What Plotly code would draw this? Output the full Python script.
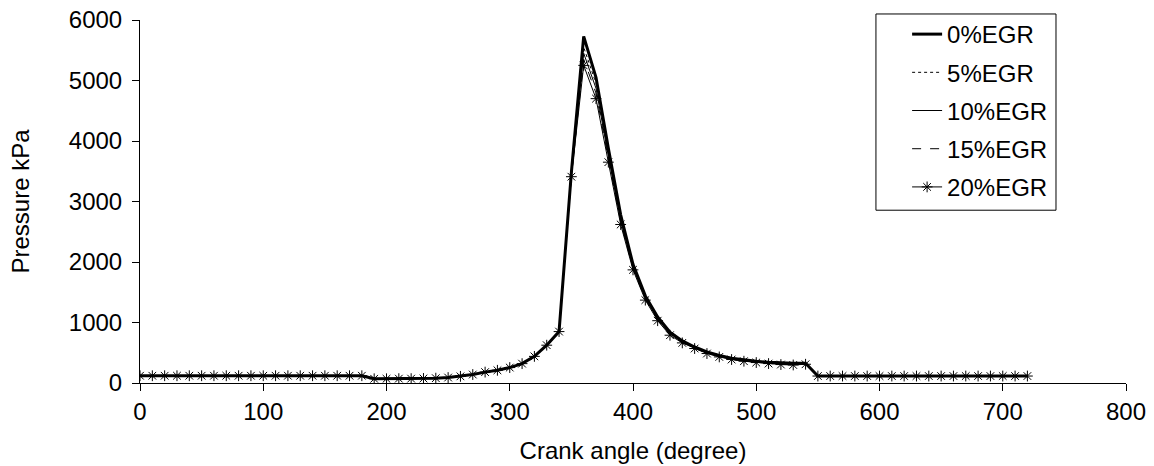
import plotly.graph_objects as go

crank_angle = [0, 10, 20, 30, 40, 50, 60, 70, 80, 90, 100, 110, 120, 130, 140, 150, 160, 170, 180,
               190, 200, 210, 220, 230, 240, 250, 260, 270, 280, 290, 300, 310, 320, 330, 340,
               350, 360, 370, 380, 390, 400, 410, 420, 430, 440, 450, 460, 470, 480, 490, 500,
               510, 520, 530, 540, 550,
               560, 570, 580, 590, 600, 610, 620, 630, 640, 650, 660, 670, 680, 690, 700, 710, 720]

p_egr0 = [120, 120, 120, 120, 120, 120, 120, 120, 120, 120, 120, 120, 120, 120, 120, 120, 120, 120, 120,
          70, 70, 72, 72, 75, 80, 90, 110, 140, 180, 210, 255, 320, 440, 625, 850,
          3480, 5730, 5050, 3880, 2780, 1960, 1440, 1090, 840, 695, 595, 515, 455, 410, 380, 358,
          342, 332, 326, 328, 115,
          115, 115, 115, 115, 115, 115, 115, 115, 115, 115, 115, 115, 115, 115, 115, 115, 115]

p_egr5 = [120, 120, 120, 120, 120, 120, 120, 120, 120, 120, 120, 120, 120, 120, 120, 120, 120, 120, 120,
          70, 70, 72, 72, 75, 80, 90, 110, 140, 180, 210, 255, 320, 440, 625, 850,
          3460, 5550, 4950, 3800, 2730, 1930, 1420, 1070, 830, 685, 585, 505, 447, 402, 372, 350,
          334, 322, 314, 316, 115,
          115, 115, 115, 115, 115, 115, 115, 115, 115, 115, 115, 115, 115, 115, 115, 115, 115]

p_egr10 = [120, 120, 120, 120, 120, 120, 120, 120, 120, 120, 120, 120, 120, 120, 120, 120, 120, 120, 120,
           70, 70, 72, 72, 75, 80, 90, 110, 140, 180, 210, 255, 320, 440, 625, 850,
           3440, 5450, 4870, 3750, 2690, 1910, 1400, 1055, 815, 675, 578, 498, 441, 396, 366, 345,
           328, 315, 305, 312, 115,
           115, 115, 115, 115, 115, 115, 115, 115, 115, 115, 115, 115, 115, 115, 115, 115, 115]

p_egr15 = [120, 120, 120, 120, 120, 120, 120, 120, 120, 120, 120, 120, 120, 120, 120, 120, 120, 120, 120,
           70, 70, 72, 72, 75, 80, 90, 110, 140, 180, 210, 255, 320, 440, 625, 850,
           3420, 5350, 4790, 3700, 2660, 1890, 1385, 1040, 803, 668, 573, 492, 436, 392, 363, 341,
           324, 310, 300, 312, 115,
           115, 115, 115, 115, 115, 115, 115, 115, 115, 115, 115, 115, 115, 115, 115, 115, 115]

p_egr20 = [120, 120, 120, 120, 120, 120, 120, 120, 120, 120, 120, 120, 120, 120, 120, 120, 120, 120, 120,
           70, 70, 72, 72, 75, 80, 90, 110, 140, 180, 210, 255, 320, 440, 625, 850,
           3410, 5250, 4700, 3650, 2620, 1870, 1370, 1030, 790, 663, 570, 487, 431, 388, 360, 338,
           321, 305, 298, 310, 115,
           115, 115, 115, 115, 115, 115, 115, 115, 115, 115, 115, 115, 115, 115, 115, 115, 115]

series_names = ["0%EGR", "5%EGR", "10%EGR", "15%EGR", "20%EGR"]
x_ticks = [0, 100, 200, 300, 400, 500, 600, 700, 800]
y_ticks = [0, 1000, 2000, 3000, 4000, 5000, 6000]

FONT = "Arial, 'Liberation Sans', sans-serif"
FS = 24

fig = go.Figure()
fig.add_trace(go.Scatter(x=crank_angle, y=p_egr0, name=series_names[0], mode="lines",
                         legendgroup="a", line=dict(color="black", width=3)))
fig.add_trace(go.Scatter(x=crank_angle, y=p_egr5, name=series_names[1], mode="lines",
                         legendgroup="b", line=dict(color="black", width=1, dash="dot")))
fig.add_trace(go.Scatter(x=crank_angle, y=p_egr10, name=series_names[2], mode="lines",
                         legendgroup="c", line=dict(color="black", width=1)))
fig.add_trace(go.Scatter(x=crank_angle, y=p_egr15, name=series_names[3], mode="lines",
                         legendgroup="d", line=dict(color="black", width=1, dash="dash")))
fig.add_trace(go.Scatter(x=crank_angle, y=p_egr20, name=series_names[4], mode="lines+markers",
                         legendgroup="e", line=dict(color="black", width=1),
                         marker=dict(symbol="asterisk-open", size=9, color="black",
                                     line=dict(color="black", width=1))))

# legend frame
fig.add_shape(type="rect", xref="paper", yref="paper",
              x0=0.7464, x1=0.929, y0=0.476, y1=1.0166,
              line=dict(color="black", width=1), fillcolor="white", layer="below")

fig.update_layout(
    width=1154, height=466,
    margin=dict(l=140, r=28, t=20, b=83, autoexpand=False),
    paper_bgcolor="white", plot_bgcolor="white",
    font=dict(family=FONT, size=FS, color="black"),
    showlegend=True,
    legend=dict(x=0.778, y=1.022, xanchor="left", yanchor="top",
                bgcolor="rgba(0,0,0,0)", borderwidth=0,
                font=dict(family=FONT, size=FS, color="black"),
                tracegroupgap=4),
    xaxis=dict(range=[0, 800], tickvals=x_ticks, ticks="outside", ticklen=7,
               tickcolor="black", showline=True, linecolor="black", linewidth=1,
               showgrid=False, zeroline=False, automargin=False,
               title=dict(text="Crank angle (degree)", font=dict(size=FS), standoff=18)),
    yaxis=dict(range=[0, 6000], tickvals=y_ticks, ticks="outside", ticklen=7,
               tickcolor="black", showline=True, linecolor="black", linewidth=1,
               showgrid=False, zeroline=False, ticklabelstandoff=5, automargin=False,
               title=dict(text="Pressure kPa", font=dict(size=FS), standoff=32)),
)

fig.write_html("out.html")
